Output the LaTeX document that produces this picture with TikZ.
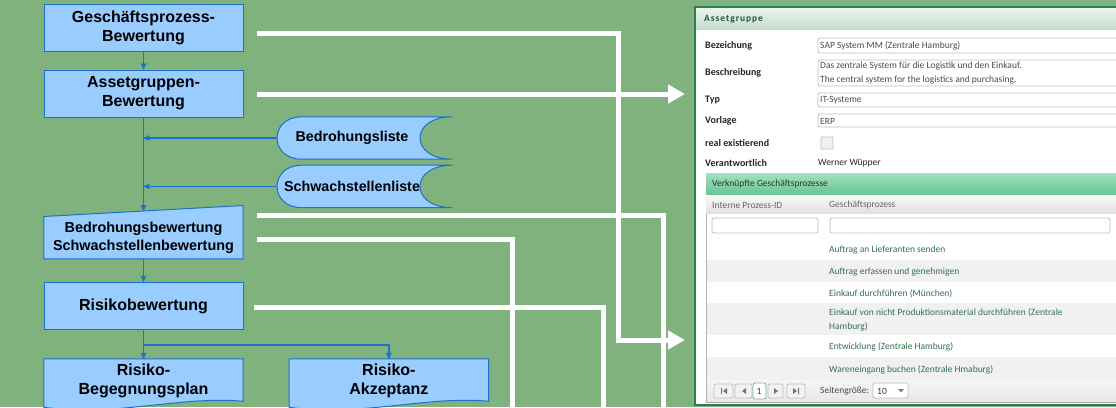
\documentclass[tikz,border=0pt]{standalone}
\usepackage{fontspec}
\setmainfont{Liberation Sans}
\newfontfamily\formfont{Carlito}
\usetikzlibrary{arrows, arrows.meta, positioning}
\pgfdeclarelayer{front}
\pgfsetlayers{main,front}

\definecolor{bggreen}{RGB}{128,178,125}
\definecolor{boxblue}{RGB}{153,204,255}
\definecolor{lineblue}{RGB}{30,112,205}
\definecolor{formgreen}{RGB}{46,125,80}
\definecolor{hdrtop}{RGB}{236,243,238}
\definecolor{hdrbot}{RGB}{196,220,204}
\definecolor{subtop}{RGB}{160,226,190}
\definecolor{subbot}{RGB}{104,196,148}
\definecolor{rowgray}{RGB}{241,241,241}
\definecolor{rowtext}{RGB}{52,112,78}

\begin{document}
\begin{tikzpicture}[x=1pt, y=1pt]
	\tikzset{>=stealth',
		box/.style={fill=boxblue, draw=lineblue, line width=1pt, minimum width=199pt, minimum height=47pt, inner sep=0pt, align=center, font=\bfseries\fontsize{16}{19}\selectfont},
		boxtext/.style={minimum width=199pt, inner sep=0pt, align=center, font=\bfseries\fontsize{16}{19}\selectfont},
		listtext/.style={minimum width=150pt, minimum height=42pt, inner sep=0pt, font=\bfseries\fontsize{14.3}{17}\selectfont},
		shapeline/.style={fill=boxblue, draw=lineblue, line width=1pt},
		flow/.style={draw=lineblue, line width=1.2pt, ->},
		whiteline/.style={draw=white, line width=5pt},
		bigarrow/.style={whiteline, -{Triangle[length=17pt, width=18pt]}},
		formlabel/.style={anchor=west, inner sep=0pt, font=\formfont\bfseries\fontsize{10}{12}\selectfont, text=black!85},
		formvalue/.style={anchor=west, inner sep=0pt, align=left, font=\formfont\fontsize{9.5}{14}\selectfont, text=black!70},
		fieldbox/.style={draw=black!25, fill=white, rounded corners=2pt, line width=0.8pt},
		rowtext/.style={formvalue, text=rowtext},
		pagerbtn/.style={draw=black!25, fill=black!5, rounded corners=2pt, line width=0.8pt}
	}

	\useasboundingbox[fill=bggreen] (0,0) rectangle (1116,-407);

	% process chain
	\begin{pgfonlayer}{front}
		\node[box] (gpb) at (143.5,-27.5) {Geschäftsprozess-\\Bewertung};
		\node[box, below=18pt of gpb] (agb) {Assetgruppen-\\Bewertung};
		\node[boxtext, minimum height=42pt, below=99pt of agb, font=\bfseries\fontsize{14.4}{17.7}\selectfont] (bsb) {Bedrohungsbewertung\\Schwachstellenbewertung};
		\node[box, below=23pt of bsb] (rb) {Risikobewertung};
		\node[boxtext, minimum height=44pt, below=29pt of rb] (rbp) {Risiko-\\Begegnungsplan};
		\node[boxtext, minimum height=44pt, right=46pt of rbp] (rak) {Risiko-\\Akzeptanz};

		\node[listtext] (bl) at (352,-138) {Bedrohungsliste};
		\node[listtext, below=6pt of bl] (sl) {Schwachstellenliste};
	\end{pgfonlayer}

	% shapes behind the texts
	\filldraw[shapeline] (bsb.south west) -- (bsb.north west) -- ([yshift=11pt]bsb.north east) -- (bsb.south east) -- cycle;
	\foreach \d in {rbp,rak}
		\filldraw[shapeline] ([yshift=2pt]\d.south east) .. controls ([xshift=-60pt,yshift=8pt]\d.south east) and ([xshift=70pt,yshift=-14pt]\d.south west) .. ([yshift=-4pt]\d.south west) -- (\d.north west) -- (\d.north east) -- cycle;
	\foreach \n in {bl,sl}
		\filldraw[shapeline] ([xshift=25pt]\n.north west) .. controls ([xshift=-8pt]\n.north west) and ([xshift=-8pt]\n.south west) .. ([xshift=25pt]\n.south west)
			-- ([xshift=25pt]\n.south east) .. controls ([xshift=-18pt]\n.south east) and ([xshift=-18pt]\n.north east) .. ([xshift=25pt]\n.north east) -- cycle;

	\draw[flow] (gpb) -- (agb);
	\draw[flow] (agb.south) -- ([yshift=5.5pt]bsb.north);
	\draw[flow] (bl.west) -- (bl.west -| agb.south);
	\draw[flow] (sl.west) -- (sl.west -| agb.south);
	\draw[flow] (bsb) -- (rb);
	\draw[flow] (rb) -- (rbp);
	\draw[flow] ([yshift=-15pt]rb.south) -| (rak.north);

	% white links to the form
	\coordinate (gpout) at (257,-33);
	\coordinate (agout) at (257,-94);
	\coordinate (bsout) at (257,-215);
	\coordinate (ssout) at (257,-239);
	\coordinate (rbout) at (254,-307);
	\coordinate (formtop) at (685,-94);
	\coordinate (formlow) at (685,-340);
	\coordinate (exitc) at (663,-412);
	\coordinate (exitd) at (512,-412);
	\coordinate (exite) at (603,-412);

	\draw[bigarrow] (gpout) -| ([xshift=-67pt]formlow) -- (formlow);
	\draw[bigarrow] (agout) -- (formtop);
	\draw[whiteline] (bsout) -| (exitc);
	\draw[whiteline] (ssout) -| (exitd);
	\draw[whiteline] (rbout) -| (exite);

	% form screenshot
	\draw[formgreen, line width=1.5pt, fill=white] (695,-7) rectangle (1122,-405);
	\shade[top color=hdrtop, bottom color=hdrbot] (696,-8) rectangle (1120,-29);
	\node[formlabel, text=formgreen!70!black, font=\formfont\bfseries\fontsize{9.5}{11}\selectfont\addfontfeature{LetterSpace=10}] (fhead) at (704,-19) {Assetgruppe};

	\foreach \y/\t [count=\i] in {46/Bezeichung, 73/Beschreibung, 100/Typ, 121/Vorlage, 143/real existierend, 163/Verantwortlich}
		\node[formlabel] (lab\i) at (705,-\y) {\t};
	\foreach \a/\b in {38/53, 60/86, 93/107, 114/127}
		\draw[fieldbox] (818,-\a) rectangle (1130,-\b);
	\node[formvalue] (vbez) at (820,-46) {SAP System MM (Zentrale Hamburg)};
	\node[formvalue] (vbes) at (820,-73) {Das zentrale System für die Logistik und den Einkauf.\\The central system for the logistics and purchasing.};
	\node[formvalue] (vtyp) at (820,-100) {IT-Systeme};
	\node[formvalue] (vvor) at (820,-121) {ERP};
	\draw[fieldbox, fill=black!6, rounded corners=1pt] (821,-137) rectangle (833,-149);
	\node[formvalue, text=black!85] (vver) at (818,-163) {Werner Wüpper};

	% linked processes
	\draw[black!30] (706,-173) rectangle (1130,-402);
	\shade[top color=subtop, bottom color=subbot] (706,-173) rectangle (1130,-195);
	\node[formvalue, text=black!80] (vgp) at (712,-184) {Verknüpfte Geschäftsprozesse};
	\shade[top color=black!2, bottom color=black!12] (706,-195) rectangle (1130,-213);
	\node[formvalue, text=black!60] (colid) at (712,-205) {Interne Prozess-ID};
	\node[formvalue, text=black!60] (colgp) at (829,-205) {Geschäftsprozess};
	\draw[fieldbox] (712,-218) rectangle (818,-233);
	\draw[fieldbox] (830,-218) rectangle (1110,-233);
	\draw[black!20] (706,-238) -- (1130,-238);

	\foreach \a/\b/\c/\t [count=\i] in {238/260/white/Auftrag an Lieferanten senden,
			260/282/rowgray/Auftrag erfassen und genehmigen,
			282/303/white/Einkauf durchführen (München),
			303/335/rowgray/{Einkauf von nicht Produktionsmaterial durchführen (Zentrale\\Hamburg)},
			335/357/white/Entwicklung (Zentrale Hamburg),
			357/380/rowgray/Wareneingang buchen (Zentrale Hmaburg)} {
		\fill[\c] (707,-\a) rectangle (1130,-\b);
		\node[rowtext] (row\i) at (829,{-(\a+\b)/2-1}) {\t};
	}

	% pager
	\shade[top color=black!4, bottom color=black!9] (707,-380) rectangle (1130,-402);
	\draw[black!35] (706,-402) -- (1130,-402);
	\foreach \l/\r in {714/733, 735/752, 768/783, 787/805}
		\draw[pagerbtn] (\l,-384) rectangle (\r,-398);
	\draw[fieldbox, draw=formgreen!60] (753,-383) rectangle (766,-399);
	\node[formvalue, text=black!80] (pg) at (756.5,-391) {1};
	\fill[black!55] (721,-388) rectangle (722,-394) (723,-391) -- (727,-388) -- (727,-394) -- cycle;
	\fill[black!55] (742,-391) -- (746,-388) -- (746,-394) -- cycle;
	\fill[black!55] (778,-391) -- (774,-388) -- (774,-394) -- cycle;
	\fill[black!55] (797,-391) -- (793,-388) -- (793,-394) -- cycle (798,-388) rectangle (799,-394);
	\node[formvalue, text=black!70] (psz) at (820,-391) {Seitengröße:};
	\draw[pagerbtn, fill=white] (873,-383) rectangle (908,-398);
	\node[formvalue, text=black!80] (pszv) at (877,-391) {10};
	\fill[black!50] (898,-389) -- (904,-389) -- (901,-392.5) -- cycle;
\end{tikzpicture}
\end{document}
